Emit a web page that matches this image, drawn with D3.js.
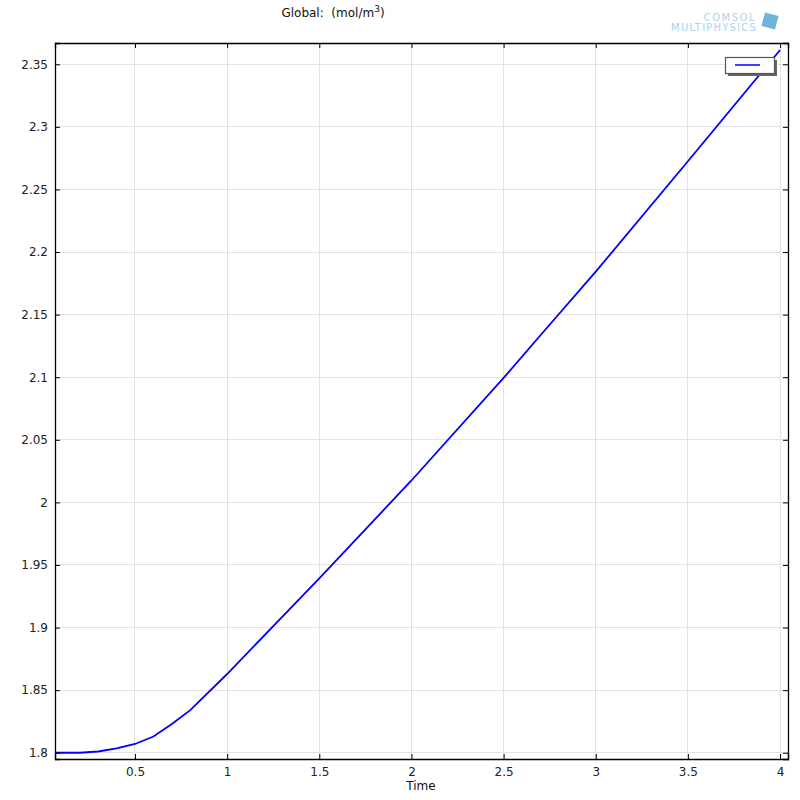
<!DOCTYPE html>
<html><head><meta charset="utf-8">
<script src="https://cdn.jsdelivr.net/npm/d3@7"></script>
<style>body{margin:0;background:#fff;} text{font-family:"DejaVu Sans",sans-serif;}</style>
</head><body>
<svg id="c" width="800" height="800"></svg>
<script>
const times = [0, 0.1, 0.2, 0.3, 0.4, 0.5, 0.6, 0.7, 0.8, 1.0, 1.5, 2.0, 2.5, 2.7, 3.0, 3.5, 4.0];
const values = [1.8, 1.8, 1.8, 1.801, 1.8035, 1.807, 1.813, 1.823, 1.834, 1.8629, 1.9393, 2.0175, 2.0994, 2.1335, 2.1843, 2.2725, 2.3614];
const xTicks = [0.5, 1, 1.5, 2, 2.5, 3, 3.5, 4];
const yTicks = [1.8, 1.85, 1.9, 1.95, 2, 2.05, 2.1, 2.15, 2.2, 2.25, 2.3, 2.35];
const titleText = "Global:\u00a0\u00a0(mol/m";
const xLabel = "Time";

const svg = d3.select("#c");
const L = 55, R = 788, T = 43, B = 759;
const x = d3.scaleLinear().domain([0.066, 4.043]).range([L, R]);
const y = d3.scaleLinear().domain([1.795, 2.367]).range([B, T]);

svg.append("defs").append("clipPath").attr("id","clip")
  .append("rect").attr("x",L).attr("y",T).attr("width",R-L).attr("height",B-T);

// grid
const g = svg.append("g");
g.selectAll(".gx").data(xTicks).enter().append("line")
  .attr("x1",d=>x(d)).attr("x2",d=>x(d)).attr("y1",T).attr("y2",B)
  .attr("stroke","#e2e2e2").attr("stroke-width",1).attr("shape-rendering","crispEdges");
g.selectAll(".gy").data(yTicks).enter().append("line")
  .attr("x1",L).attr("x2",R).attr("y1",d=>y(d)).attr("y2",d=>y(d))
  .attr("stroke","#e2e2e2").attr("stroke-width",1).attr("shape-rendering","crispEdges");

// line
svg.append("path").datum(times.map((t,i)=>[t,values[i]]))
  .attr("clip-path","url(#clip)")
  .attr("fill","none").attr("stroke","#0000ff").attr("stroke-width",1.8)
  .attr("d", d3.line().x(d=>x(d[0])).y(d=>y(d[1])));

// axes
const tk = 5;
const axB = svg.append("g").attr("transform",`translate(0,${B})`)
  .call(d3.axisBottom(x).tickValues(xTicks).tickSize(-tk).tickPadding(8).tickFormat(d3.format("")));
const axL = svg.append("g").attr("transform",`translate(${L},0)`)
  .call(d3.axisLeft(y).tickValues(yTicks).tickSize(-tk).tickPadding(7).tickFormat(d3.format("")));
const axT = svg.append("g").attr("transform",`translate(0,${T})`)
  .call(d3.axisTop(x).tickValues(xTicks).tickSize(-tk).tickFormat(""));
const axR = svg.append("g").attr("transform",`translate(${R},0)`)
  .call(d3.axisRight(y).tickValues(yTicks).tickSize(-tk).tickFormat(""));
[axB,axL,axT,axR].forEach(a=>{
  a.select(".domain").attr("stroke","#000").attr("stroke-width",1.3);
  a.selectAll(".tick line").attr("stroke","#000");
  a.selectAll("text").attr("font-family","DejaVu Sans").attr("font-size",12).attr("fill","#222");
});

// title
const tt = svg.append("text").attr("x",333).attr("y",17).attr("text-anchor","middle")
  .attr("font-size",12).attr("fill","#111");
tt.append("tspan").text(titleText);
tt.append("tspan").attr("dy",-5).attr("font-size",9).text("3");
tt.append("tspan").attr("dy",5).text(")");

svg.append("text").attr("x",421).attr("y",790).attr("text-anchor","middle")
  .attr("font-size",12).attr("fill","#111").text(xLabel);

// legend
svg.append("rect").attr("x",728).attr("y",60).attr("width",49).attr("height",16).attr("fill","#666");
svg.append("rect").attr("x",725.5).attr("y",57.5).attr("width",49).attr("height",16)
  .attr("fill","#fff").attr("stroke","#555").attr("stroke-width",1.2);
svg.append("line").attr("x1",735).attr("x2",760).attr("y1",65).attr("y2",65)
  .attr("stroke","#0000ff").attr("stroke-width",1.5);

// logo
svg.append("text").attr("x",756).attr("y",21).attr("text-anchor","end")
  .attr("font-size",10).attr("fill","#a8d4ee").attr("letter-spacing",1.5).text("COMSOL");
svg.append("text").attr("x",757).attr("y",31).attr("text-anchor","end")
  .attr("font-size",10).attr("fill","#a8d4ee").attr("letter-spacing",1.2).text("MULTIPHYSICS");
svg.append("rect").attr("x",763).attr("y",14).attr("width",14).attr("height",14)
  .attr("fill","#6fb4dc").attr("transform","rotate(15,770,21)");
</script>
</body></html>
